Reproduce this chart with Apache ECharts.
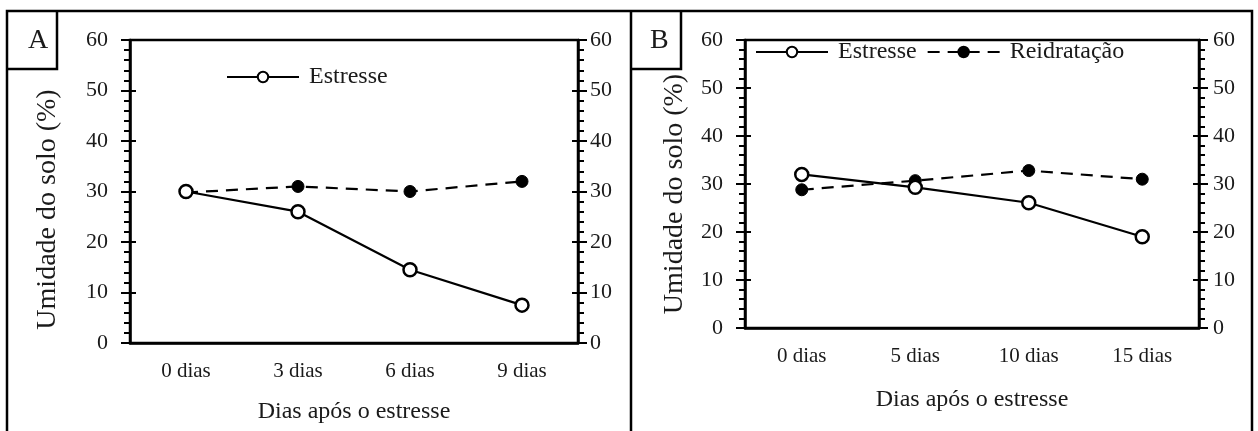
<!DOCTYPE html>
<html>
<head>
<meta charset="utf-8">
<script src="https://cdn.jsdelivr.net/npm/echarts@6/dist/echarts.min.js"></script>
<style>
  html, body { margin: 0; padding: 0; background: #fff; }
  #chart { width: 1258px; height: 431px; }
</style>
</head>
<body>
<div id="chart"></div>
<script>
const catsA = ['0 dias', '3 dias', '6 dias', '9 dias']
const catsB = ['0 dias', '5 dias', '10 dias', '15 dias']
const estresseA = [30, 26, 14.5, 7.5]
const reidratA = [29.8, 31, 30, 32]
const estresseB = [32, 29.3, 26.1, 19]
const reidratB = [28.8, 30.7, 32.8, 31]
const yTicks = { min: 0, max: 60, interval: 10 }

const FONT = '"Liberation Serif", "DejaVu Serif", serif'
const INK = '#1a1a1a'

const chart = echarts.init(document.getElementById('chart'), null, { renderer: 'canvas' })

const xAxisFor = (cats, grid, nameGap) => ({
  type: 'category',
  gridIndex: grid,
  data: cats,
  boundaryGap: true,
  name: 'Dias após o estresse',
  nameLocation: 'middle',
  nameGap: nameGap,
  nameTextStyle: { fontFamily: FONT, fontSize: 24, color: INK },
  axisLine: { lineStyle: { color: '#000', width: 2.5 } },
  axisTick: { show: false },
  axisLabel: { fontFamily: FONT, fontSize: 21, color: INK, margin: 18 },
  splitLine: { show: false }
})

// y axes: labelled left + labelled right, plus inner tick copies so majors cross the line
const yAxisFor = (grid, pos, labelMargin, withName, nameGap, nameShift) => ({
  type: 'value',
  gridIndex: grid,
  position: pos,
  ...yTicks,
  name: withName ? 'Umidade do solo (%)' : '',
  nameLocation: 'middle',
  nameGap: nameGap,
  nameTextStyle: { fontFamily: FONT, fontSize: 28, color: INK, padding: [0, nameShift || 0, 0, 0] },
  axisLine: { show: true, lineStyle: { color: '#000', width: 2.5 } },
  axisTick: { show: true, inside: false, length: 9, lineStyle: { color: '#000', width: 2 } },
  minorTick: { show: true, splitNumber: 5, length: 6, lineStyle: { color: '#000', width: 2 } },
  axisLabel: { fontFamily: FONT, fontSize: 22, color: INK, margin: labelMargin },
  splitLine: { show: false },
  minorSplitLine: { show: false }
})

const innerTicks = (grid, pos) => ({
  type: 'value',
  gridIndex: grid,
  position: pos,
  ...yTicks,
  axisLine: { show: false },
  axisTick: { show: true, inside: true, length: 6, lineStyle: { color: '#000', width: 2 } },
  axisLabel: { show: false },
  splitLine: { show: false }
})

const estresseStyle = {
  type: 'line',
  symbol: 'circle',
  symbolSize: 13,
  lineStyle: { color: '#000', width: 2.2 },
  itemStyle: { color: '#fff', borderColor: '#000', borderWidth: 2.5 },
  z: 3
}
const reidratStyle = {
  type: 'line',
  symbol: 'circle',
  symbolSize: 12,
  lineStyle: { color: '#000', width: 2.2, type: [12, 8] },
  itemStyle: { color: '#000', borderColor: '#000', borderWidth: 1 },
  z: 2
}

const legendBase = {
  itemWidth: 72,
  itemHeight: 13,
  padding: 0,
  textStyle: { fontFamily: FONT, fontSize: 24, color: INK, padding: [0, 0, 0, 5] }
}

const option = {
  animation: false,
  backgroundColor: '#fff',
  textStyle: { fontFamily: FONT },
  grid: [
    { left: 130, top: 40, width: 448, height: 303, show: true, borderColor: '#000', borderWidth: 2.5, backgroundColor: 'transparent' },
    { left: 745, top: 40, width: 454, height: 288, show: true, borderColor: '#000', borderWidth: 2.5, backgroundColor: 'transparent' }
  ],
  legend: [
    {
      ...legendBase,
      data: ['Estresse A'],
      left: 226, top: 65,
      formatter: () => 'Estresse'
    },
    {
      ...legendBase,
      data: ['Estresse', 'Reidratação'],
      left: 755, top: 40,
      itemGap: 10
    }
  ],
  xAxis: [xAxisFor(catsA, 0, 57), xAxisFor(catsB, 1, 60)],
  yAxis: [
    yAxisFor(0, 'left', 22, true, 68, 36),
    yAxisFor(0, 'right', 12, false, 0),
    yAxisFor(1, 'left', 22, true, 56, 20),
    yAxisFor(1, 'right', 14, false, 0),
    innerTicks(0, 'left'),
    innerTicks(0, 'right'),
    innerTicks(1, 'left'),
    innerTicks(1, 'right')
  ],
  series: [
    { ...reidratStyle, name: 'Reidratação A', xAxisIndex: 0, yAxisIndex: 0, data: reidratA },
    { ...estresseStyle, name: 'Estresse A', xAxisIndex: 0, yAxisIndex: 0, data: estresseA },
    { ...reidratStyle, name: 'Reidratação', xAxisIndex: 1, yAxisIndex: 2, data: reidratB },
    { ...estresseStyle, name: 'Estresse', xAxisIndex: 1, yAxisIndex: 2, data: estresseB }
  ],
  graphic: [
    // outer frame and panel divider
    { type: 'polyline', shape: { points: [[7, 440], [7, 11], [1252, 11], [1252, 440]] }, style: { stroke: '#000', lineWidth: 2.5, fill: null } },
    { type: 'line', shape: { x1: 631, y1: 11, x2: 631, y2: 440 }, style: { stroke: '#000', lineWidth: 2.5 } },
    // panel letter boxes
    { type: 'polyline', shape: { points: [[7, 69], [57, 69], [57, 11]] }, style: { stroke: '#000', lineWidth: 2.5, fill: null } },
    { type: 'polyline', shape: { points: [[631, 69], [681, 69], [681, 11]] }, style: { stroke: '#000', lineWidth: 2.5, fill: null } },
    { type: 'text', left: 28, top: 27, style: { text: 'A', font: '28px ' + FONT, fill: INK } },
    { type: 'text', left: 650, top: 27, style: { text: 'B', font: '28px ' + FONT, fill: INK } }
  ]
}

chart.setOption(option)
window.addEventListener('resize', () => chart.resize())
</script>
</body>
</html>
